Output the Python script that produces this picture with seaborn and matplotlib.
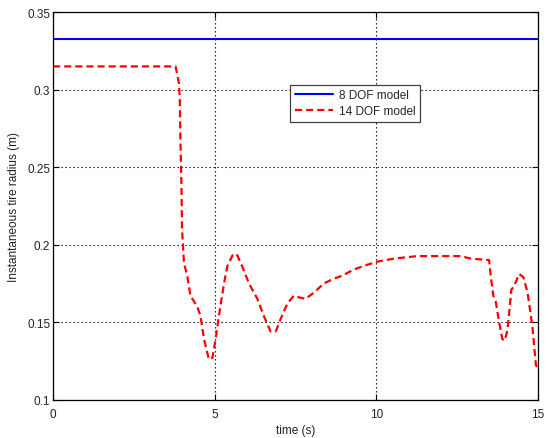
import matplotlib
matplotlib.use("Agg")
import matplotlib.pyplot as plt
import numpy as np
import pandas as pd
import seaborn as sns

# 8 DOF model: constant tire radius
time_8dof = [0.0, 15.0]
radius_8dof = [0.3325, 0.3325]

# 14 DOF model
time_14dof = [0.0, 3.79, 3.89, 3.92, 3.94, 3.97, 3.99, 4.05, 4.15, 4.25, 4.46, 4.56,
              4.67, 4.82, 4.93, 5.03, 5.13, 5.29, 5.39, 5.55, 5.68, 5.85, 6.06, 6.32,
              6.52, 6.73, 6.89, 7.04, 7.25, 7.45, 7.61, 7.81, 8.07, 8.38, 8.69, 8.95,
              9.31, 9.72, 10.03, 10.55, 11.27, 12.61, 12.92, 13.49, 13.54, 13.62, 13.69,
              13.80, 13.90, 13.97, 14.06, 14.18, 14.26, 14.42, 14.55, 14.68, 14.83,
              14.94, 15.0]
radius_14dof = [0.315, 0.315, 0.3046, 0.294, 0.268, 0.240, 0.210, 0.188, 0.180, 0.167,
                0.160, 0.154, 0.139, 0.126, 0.127, 0.139, 0.154, 0.175, 0.186, 0.193,
                0.194, 0.186, 0.175, 0.165, 0.154, 0.144, 0.144, 0.152, 0.162, 0.167,
                0.166, 0.165, 0.169, 0.175, 0.178, 0.180, 0.184, 0.187, 0.189, 0.191,
                0.1926, 0.1926, 0.191, 0.190, 0.180, 0.167, 0.164, 0.150, 0.139, 0.138,
                0.145, 0.171, 0.173, 0.181, 0.179, 0.169, 0.147, 0.122, 0.121]

x_ticks = [0, 5, 10, 15]
y_ticks = [0.1, 0.15, 0.2, 0.25, 0.3, 0.35]
y_ticklabels = ["0.1", "0.15", "0.2", "0.25", "0.3", "0.35"]

sns.set_style("ticks")
plt.rcParams['font.family'] = ['Liberation Sans', 'DejaVu Sans']

fig = plt.figure(figsize=(5.5, 4.39), dpi=100)
ax = fig.add_axes([0.0965, 0.0875, 0.8815, 0.8825])

df8 = pd.DataFrame({"t": time_8dof, "r": radius_8dof})
df14 = pd.DataFrame({"t": time_14dof, "r": radius_14dof})

sns.lineplot(data=df8, x="t", y="r", ax=ax, color="#0000ff", linewidth=1.5,
             label="8 DOF model")
sns.lineplot(data=df14, x="t", y="r", ax=ax, color="#ff0000", linewidth=1.6,
             label="14 DOF model")
ax.lines[1].set_dashes([3.2, 1.8])

ax.set_xlim(0, 15)
ax.set_ylim(0.1, 0.35)
ax.set_xticks(x_ticks)
ax.set_yticks(y_ticks)
ax.set_yticklabels(y_ticklabels)
ax.grid(True, color="black", linestyle=(0, (1.2, 2.4)), linewidth=0.8)
ax.tick_params(direction="in", length=4, width=0.8, labelsize=8.5,
               top=True, right=True, colors="black", labelcolor="#222222", pad=2)
ax.tick_params(axis="x", pad=6)
for sp in ax.spines.values():
    sp.set_visible(True)
    sp.set_color("black")
    sp.set_linewidth(0.9)

ax.set_xlabel("time (s)", fontsize=8.5, labelpad=3, color="#222222")
ax.set_ylabel("Instantaneous tire radius (m)", fontsize=8.5, labelpad=5, color="#222222")

leg = ax.legend(loc="upper left", bbox_to_anchor=(0.489, 0.813), fontsize=8.5,
                fancybox=False, framealpha=1, edgecolor="#404040",
                handlelength=3.2, borderpad=0.4, labelspacing=0.3,
                handletextpad=0.5, borderaxespad=0)
leg.get_frame().set_linewidth(0.9)

fig.savefig("out.png", dpi=100)
